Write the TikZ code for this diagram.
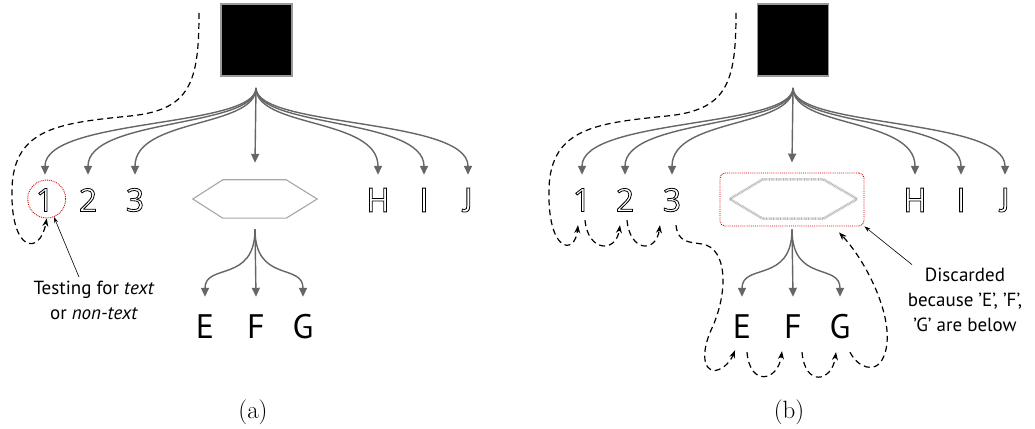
\documentclass[tikz,border=0pt]{standalone}
\usepackage{fontspec}
\setsansfont{PT Sans}
\newfontfamily\digitfont{Open Sans}
\usetikzlibrary{arrows.meta,positioning}

% hollow (stroked) glyphs
\newcommand{\hollow}[1]{\special{pdf:literal direct 1 Tr 0.8 w}#1\special{pdf:literal direct 0 Tr}}

\tikzset{
  branch/.style={draw=black!60, line width=1.4pt, -{Triangle[width=8pt,length=9pt]}},
  hop/.style={draw=black, line width=1.2pt, dash pattern=on 6pt off 4pt, -{Stealth[width=6pt,length=8pt]}},
  pointer/.style={draw=black, line width=0.6pt, -{Stealth[width=4pt,length=6pt]}},
  glyph/.style={font=\sffamily\fontsize{34}{34}\selectfont, inner sep=0pt, minimum height=50pt},
  digit/.style={glyph, font=\digitfont\fontsize{32}{32}\selectfont},
  leaf/.style={font=\sffamily\fontsize{34}{34}\selectfont, inner sep=0pt, minimum height=60pt},
  note/.style={font=\sffamily\fontsize{19}{25}\selectfont, align=center},
  block/.style={draw=black!40, line width=1.5pt, fill=black, minimum width=71pt, minimum height=72pt},
  redmark/.style={draw=red!85!black, line width=0.9pt, densely dotted},
  caption/.style={font=\fontsize{25}{25}\selectfont},
}

\begin{document}
\begin{tikzpicture}[x=1pt, y=1pt]
  \useasboundingbox (0,0) rectangle (1035,428);

  % (a)
  \node[block] (sqA) at (256.5,388) {};
  \coordinate (rootA) at (256,340);
  \node[digit] (n1A) at (45,228) {\hollow{1}};
  \node[digit] (n2A) at (88,228) {\hollow{2}};
  \node[digit] (n3A) at (135,228) {\hollow{3}};
  \node[glyph] (nHA) at (378,228) {\hollow{H}};
  \node[glyph] (nIA) at (424,228) {\hollow{I}};
  \node[glyph] (nJA) at (468,228) {\hollow{J}};
  \node[minimum width=124pt, minimum height=38pt, inner sep=0pt] (hexA) at (255,229) {};
  \draw[draw=black!35, line width=1.1pt] (hexA.west) -- ([xshift=30pt]hexA.north west)
    -- ([xshift=-31pt]hexA.north east) -- (hexA.east) -- ([xshift=-31pt]hexA.south east)
    -- ([xshift=30pt]hexA.south west) -- cycle;
  \foreach \n in {n1A,n2A,n3A,nHA,nIA,nJA}
    \draw[branch] (rootA) .. controls +(0,-40) and +(0,57) .. (\n.north);
  \draw[branch] (rootA) -- ([yshift=17pt]hexA.north);

  \node[leaf] (nEA) at (205,101) {E};
  \node[leaf] (nFA) at (256,101) {F};
  \node[leaf] (nGA) at (303,101) {G};
  \coordinate (forkA) at ([yshift=-11pt]hexA.south);
  \foreach \n in {nEA,nGA}
    \draw[branch] (forkA) .. controls +(0,-54) and +(0,34) .. (\n.north);
  \draw[branch] (forkA) -- (nFA.north);

  \node[redmark, circle, minimum size=38pt, inner sep=0pt] (ringA) at (46.7,229) {};
  \coordinate (topA) at (199,415);
  \draw[hop] (topA) .. controls (199,345) and (190,318) .. (130,312)
    .. controls (60,305) and (14,300) .. (12,240)
    .. controls (10,175) and (40,172) .. (ringA.south);

  \node[note] (noteA) at (94,128) {Testing for \textit{text}\\or \textit{non-text}};
  \draw[pointer] ([xshift=-15pt]noteA.north) -- (ringA.-68);
  \node[caption] (capA) at (253,16) {(a)};

  % (b)
  \node[block] (sqB) at (793,388) {};
  \coordinate (rootB) at (793,340);
  \node[digit] (n1B) at (582,228) {\hollow{1}};
  \node[digit] (n2B) at (625,228) {\hollow{2}};
  \node[digit] (n3B) at (672,228) {\hollow{3}};
  \node[glyph] (nHB) at (915,228) {\hollow{H}};
  \node[glyph] (nIB) at (961,228) {\hollow{I}};
  \node[glyph] (nJB) at (1005,228) {\hollow{J}};
  \node[redmark, rounded corners=5pt, minimum width=144pt, minimum height=53pt] (boxB) at (792,228.5) {};
  \node[minimum width=127pt, minimum height=39pt, inner sep=0pt] (hexB) at (793.5,229) {};
  \draw[draw=black!30, line width=2.5pt, dash pattern=on 0.7pt off 0.7pt] (hexB.west)
    -- ([xshift=33pt]hexB.north west) -- ([xshift=-34pt]hexB.north east) -- (hexB.east)
    -- ([xshift=-34pt]hexB.south east) -- ([xshift=33pt]hexB.south west) -- cycle;
  \foreach \n in {n1B,n2B,n3B,nHB,nIB,nJB}
    \draw[branch] (rootB) .. controls +(0,-40) and +(0,57) .. (\n.north);
  \draw[branch] (rootB) -- ([yshift=10pt]boxB.north);

  \node[leaf] (nEB) at (742,101) {E};
  \node[leaf] (nFB) at (793,101) {F};
  \node[leaf] (nGB) at (840,101) {G};
  \coordinate (forkB) at ([yshift=-3pt]boxB.south);
  \foreach \n in {nEB,nGB}
    \draw[branch] (forkB) .. controls +(0,-54) and +(0,34) .. (\n.north);
  \draw[branch] (forkB) -- (nFB.north);

  \coordinate (topB) at (736,415);
  \draw[hop] (topB) .. controls (736,345) and (727,318) .. (667,312)
    .. controls (597,305) and (551,300) .. (549,240)
    .. controls (547,175) and (575,172) .. ([xshift=-4pt]n1B.south);
  \draw[hop] ([xshift=3pt,yshift=5pt]n1B.south) .. controls +(3,-32) and +(-4,-28) .. ([xshift=-5pt]n2B.south);
  \draw[hop] ([xshift=2pt,yshift=5pt]n2B.south) .. controls +(3,-32) and +(-4,-28) .. ([xshift=-12pt]n3B.south);
  \draw[hop] ([xshift=4pt]n3B.south) .. controls +(2,-17) and +(-14,2) .. (702,184)
    .. controls (728,180) and (728,135) .. (712,100)
    .. controls (698,70) and (706,52) .. (720,59)
    .. controls (727,62) and (732,70) .. ([xshift=-7pt,yshift=7pt]nEB.south);
  \draw[hop] ([xshift=5pt,yshift=5pt]nEB.south) .. controls +(3,-35) and +(-4,-30) .. ([xshift=-11pt,yshift=6pt]nFB.south);
  \draw[hop] ([xshift=9pt,yshift=5pt]nFB.south) .. controls +(3,-35) and +(-4,-30) .. ([xshift=-4pt,yshift=5pt]nGB.south);
  \draw[hop] ([xshift=10pt,yshift=5pt]nGB.south) .. controls (858,60) and (875,55) .. (882,68)
    .. controls (900,100) and (868,165) .. ([shift={(47pt,-6pt)}]boxB.south);

  \node[note] (noteB) at (965,128) {Discarded\\because 'E', 'F',\\'G' are below};
  \draw[pointer] ([xshift=-53pt]noteB.north) -- (boxB.south east);
  \node[caption] (capB) at (789,16) {(b)};
\end{tikzpicture}
\end{document}
